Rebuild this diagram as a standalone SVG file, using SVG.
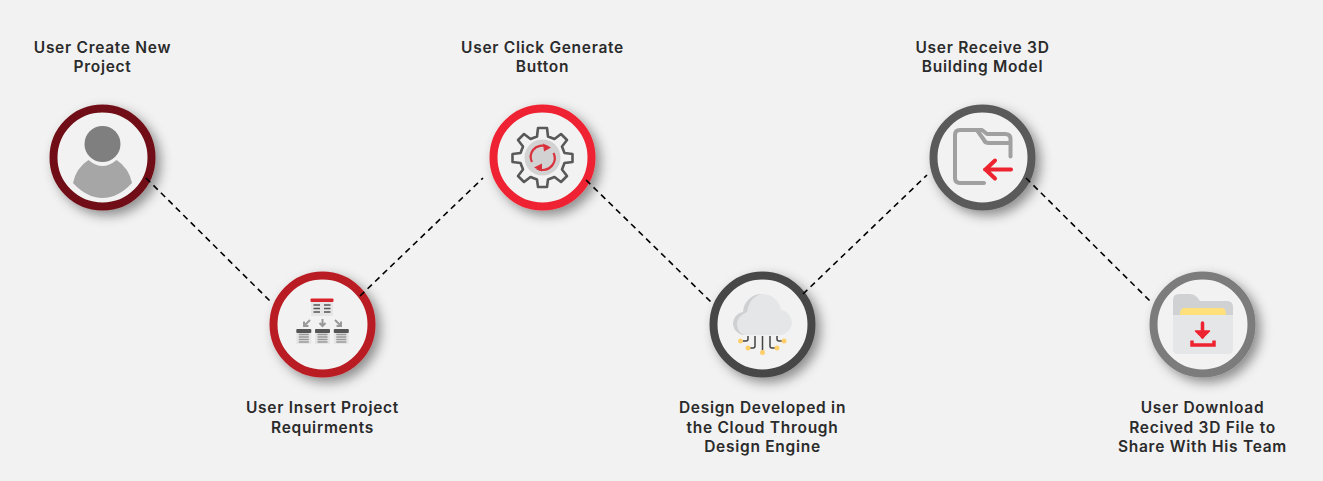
<svg xmlns="http://www.w3.org/2000/svg" width="1323" height="481" viewBox="0 0 1323 481">
<style>
.ring{fill:#f2f2f2;stroke-width:8;filter:url(#sh)}
.lbl{font-family:"Inter","Noto Sans",sans-serif;font-weight:600;font-size:15.5px;fill:#2b2b2b;text-anchor:middle;letter-spacing:.72px}
.conn line{stroke:#000;stroke-width:1.6;stroke-dasharray:6 4.500;fill:none}
</style>
<defs>
<filter id="sh" x="-30%" y="-30%" width="170%" height="170%"><feDropShadow dx="5" dy="5" stdDeviation="6" flood-color="#000" flood-opacity=".42"/></filter>
<g id="tbl"><rect x="-7.500" y="-6" width="15" height="15" fill="#e6e6e6"/><rect x="-7.500" y="-6" width="15" height="4" rx="1" fill="#555"/><path d="M-5-.5H5M-5 2H5M-5 4.500H5M-5 7H5" stroke="#999" stroke-width="1.500"/></g>
</defs>
<rect width="1323" height="481" fill="#f2f2f2"/>
<g id="node-1">
<circle class="ring" cx="102.500" cy="157.500" r="49" stroke="#701116"/>
<circle cx="102.500" cy="144" r="18" fill="#7f7f7f"/>
<path d="M88.500 160Q102.500 172 116.500 160Q129 168 132 183Q118 198 102.500 198Q87 198 73 183Q76 168 88.500 160Z" fill="#a6a6a6"/>
<text class="lbl" x="102.500" y="53">User Create New</text><text class="lbl" x="102.500" y="72">Project</text>
</g>
<g id="node-2">
<circle class="ring" cx="322.500" cy="324.500" r="49" stroke="#b91c24"/>
<rect x="311" y="299" width="22" height="17" fill="#e6e6e6"/>
<rect x="310.500" y="298.500" width="23" height="3.500" rx="1" fill="#d8242c"/>
<path d="M313.500 305h6.500M324 305h6.500M313.500 308.500h6.500M324 308.500h6.500M313.500 312h6.500M324 312h6.500" stroke="#555" stroke-width="1.600"/>
<path d="M310 320l-6 6M304 321.500v4.500h4.500M322.500 319v7M319.500 323l3 3 3-3M335 320l6 6M341 321.500v4.500h-4.500" stroke="#999" stroke-width="2" fill="none"/>
<use href="#tbl" x="303.800" y="335"/><use href="#tbl" x="322.500" y="335"/><use href="#tbl" x="341.300" y="335"/>
<text class="lbl" x="322.500" y="413">User Insert Project</text><text class="lbl" x="322.500" y="433">Requirments</text>
</g>
<g id="node-3">
<circle class="ring" cx="542.500" cy="157.500" r="49" stroke="#ee2330"/>
<path d="M538 128H547L548 136.500L554.500 139L561 134L567 140L562 146.500L564.500 153L572.500 154V162L564.500 163L562 169.500L567 176L561 182L554.500 177L548 179.500L547 187H538L537 179.500L530.500 177L524 182L518 176L523 169.500L520.500 163L512.500 162V154L520.500 153L523 146.500L518 140L524 134L530.500 139L537 136.500Z" fill="none" stroke="#595959" stroke-width="2.600" stroke-linejoin="round"/>
<circle cx="542.500" cy="157.500" r="18" fill="#d2d2d2"/>
<path d="M533 150A12 12 0 0 1 548 147M552.500 165A12 12 0 0 1 537 168.500M532 162A11.500 11.500 0 0 1 533 150M553.500 153A11.500 11.500 0 0 1 552.500 165" fill="none" stroke="#d9323d" stroke-width="2.200"/>
<path d="M543 143.500L551 147.500L544 151.500ZM542 163.500L534 167.500L542 171.500Z" fill="#d9323d"/>
<text class="lbl" x="542.500" y="53">User Click Generate</text><text class="lbl" x="542.500" y="72">Button</text>
</g>
<g id="node-4">
<circle class="ring" cx="762.500" cy="324.500" r="49" stroke="#474747"/>
<path d="M745 335A12 12 0 0 1 733 323A12 12 0 0 1 743 312A19 19 0 0 1 762 294A19 19 0 0 1 781 310A13 13 0 0 1 792 323A13 13 0 0 1 780 335Z" fill="#e5e6e8"/>
<path d="M745 335A12 12 0 0 1 733 323A12 12 0 0 1 743 312A19 19 0 0 1 762 294Q750 296 747 312Q737 316 737 325Q738 333 745 335Z" fill="#cfd0d2"/>
<path d="M748 336V339Q748 341 746 341H742M755 336V346Q755 348 753 348H749M762.500 336V351M770 336V346Q770 348 772 348H776M777 336V339Q777 341 779 341H783" fill="none" stroke="#444" stroke-width="1.500"/>
<g fill="#ffcf6b"><circle cx="740.500" cy="341" r="2.500"/><circle cx="748" cy="348" r="2.500"/><circle cx="762.500" cy="352.500" r="2.500"/><circle cx="777" cy="348" r="2.500"/><circle cx="784" cy="341" r="2.500"/></g>
<text class="lbl" x="762.500" y="413">Design Developed in</text><text class="lbl" x="762.500" y="433">the Cloud Through</text><text class="lbl" x="762.500" y="452">Design Engine</text>
</g>
<g id="node-5">
<circle class="ring" cx="982.500" cy="157.500" r="49" stroke="#5a5a5a"/>
<path d="M1010.500 156.500V139Q1010.500 134 1005 134H987L982 130Q980 130 977 130H960Q955 130 955 135V178Q955 183 960 183H984" fill="none" stroke="#a0a0a0" stroke-width="4" stroke-linecap="round" stroke-linejoin="round"/>
<path d="M977 130L984 140Q985 143 989 143H1010" fill="none" stroke="#a0a0a0" stroke-width="4" stroke-linejoin="round"/>
<path d="M1011 169.500H985M995 160.500L985.500 169.500L995 178.500" fill="none" stroke="#ee2330" stroke-width="4" stroke-linecap="round" stroke-linejoin="round"/>
<text class="lbl" x="982.500" y="53">User Receive 3D</text><text class="lbl" x="982.500" y="72">Building Model</text>
</g>
<g id="node-6">
<circle class="ring" cx="1202.500" cy="324.500" r="49" stroke="#7c7c7c"/>
<path d="M1173 300Q1173 294 1179 294H1190Q1194 294 1197 297L1200 301H1227Q1233 301 1233 307V315H1173Z" fill="#d0d1d3"/>
<path d="M1173 315H1233V349Q1233 354 1228 354H1178Q1173 354 1173 349Z" fill="#e5e6e8"/>
<path d="M1180 315Q1180 308 1184 308H1222Q1226 308 1226 315Z" fill="#ffe07a"/>
<path d="M1202.500 323V337" stroke="#ee2330" stroke-width="3.500" stroke-linecap="round"/>
<path d="M1195.500 331H1209.500L1202.500 338Z" fill="#ee2330" stroke="#ee2330" stroke-width="1.500" stroke-linejoin="round"/>
<path d="M1192 340.500V345H1214V340.500" fill="none" stroke="#ee2330" stroke-width="3.500"/>
<text class="lbl" x="1202.500" y="413">User Download</text><text class="lbl" x="1202.500" y="433">Recived 3D File to</text><text class="lbl" x="1202.500" y="452">Share With His Team</text>
</g>
<g id="connectors" class="conn">
<line x1="146" y1="178" x2="271" y2="302"/>
<line x1="360" y1="296" x2="483" y2="178"/>
<line x1="586" y1="180" x2="711" y2="302"/>
<line x1="803" y1="294" x2="927" y2="175"/>
<line x1="1026" y1="178" x2="1151" y2="302"/>
</g>
</svg>
